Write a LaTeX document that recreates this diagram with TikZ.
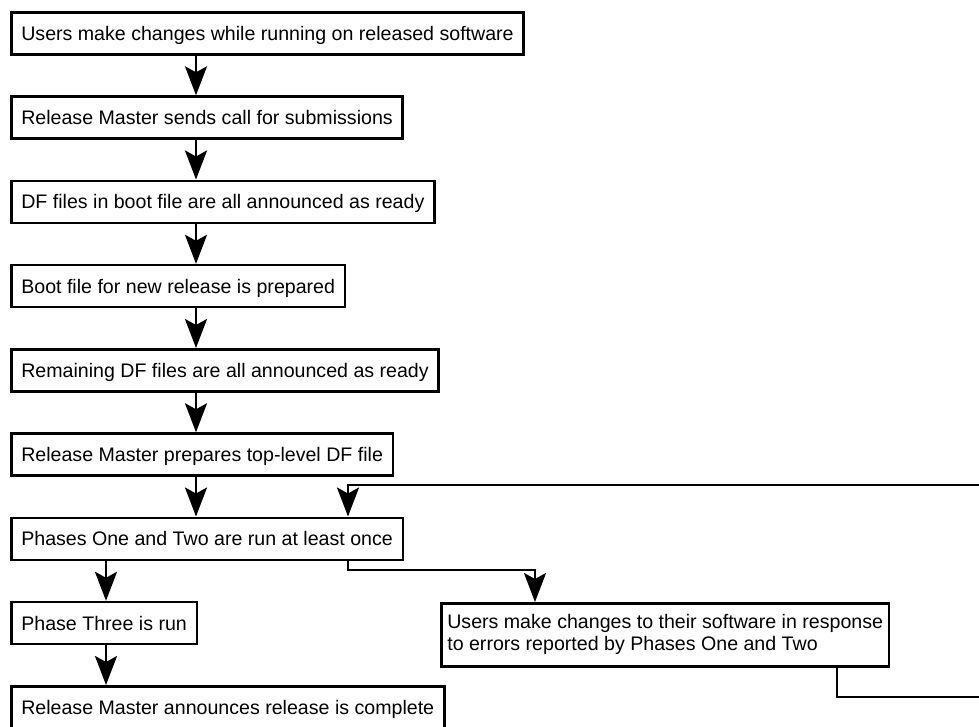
\documentclass[tikz,border=0pt]{standalone}
\usepackage{fontspec}
\setmainfont{Liberation Sans}
\usetikzlibrary{arrows.meta}
\begin{document}
\begin{tikzpicture}[x=1pt,y=-1pt,
  stepbox/.style={draw, line width=2.6pt, anchor=north west, minimum height=42pt,
    inner xsep=10pt, inner ysep=0pt, text height=15pt, text depth=1pt,
    font=\fontsize{19.6}{22}\selectfont},
  flow/.style={line width=2.6pt, line join=miter,
    -{Stealth[length=29pt,width=22pt,inset=6pt]}}]
\useasboundingbox (0,0) rectangle (979,726);

% main sequence of steps
\node[stepbox] (s1) at (10,11)    {Users make changes while running on released software};
\node[stepbox] (s2) at (10,95.3)  {Release Master sends call for submissions};
\node[stepbox] (s3) at (10,179.5) {DF files in boot file are all announced as ready};
\node[stepbox] (s4) at (10,263.8) {Boot file for new release is prepared};
\node[stepbox] (s5) at (10,348)   {Remaining DF files are all announced as ready};
\node[stepbox] (s6) at (10,432.3) {Release Master prepares top-level DF file};
\node[stepbox] (s7) at (10,516.5) {Phases One and Two are run at least once};
\node[stepbox] (s8) at (10,600.8) {Phase Three is run};
\node[stepbox] (s9) at (10,685)   {Release Master announces release is complete};

% side step: fixing errors found by Phases One and Two
\node[stepbox, minimum height=63pt, inner xsep=6pt, text height=, text depth=,
      align=left] (s10) at (440,602)
  {Users make changes to their software in response\\to errors reported by Phases One and Two};

% columns and rows used by the connectors
\coordinate (cA) at (196,0);
\coordinate (cB) at (106,0);
\coordinate (cC) at (348,0);
\coordinate (cD) at (535,0);
\coordinate (cE) at (837,0);
\coordinate (branchY) at (0,570);
\coordinate (loopTop) at (0,485);
\coordinate (loopLow) at (0,697);
\coordinate (loopR) at (992,0);

% straight flow down the main column
\draw[flow] (s1.south -| cA) -- (s2.north -| cA);
\draw[flow] (s2.south -| cA) -- (s3.north -| cA);
\draw[flow] (s3.south -| cA) -- (s4.north -| cA);
\draw[flow] (s4.south -| cA) -- (s5.north -| cA);
\draw[flow] (s5.south -| cA) -- (s6.north -| cA);
\draw[flow] (s6.south -| cA) -- (s7.north -| cA);
\draw[flow] (s7.south -| cB) -- (s8.north -| cB);
\draw[flow] (s8.south -| cB) -- (s9.north -| cB);

% branch to the correction step
\draw[flow] (s7.south -| cC) -- (branchY -| cC) -- (branchY -| cD) -- (s10.north -| cD);

% loop back to Phases One and Two
\draw[flow] (s10.south -| cE) -- (loopLow -| cE) -- (loopLow -| loopR)
  -- (loopTop -| loopR) -- (loopTop -| cC) -- (s7.north -| cC);
\end{tikzpicture}
\end{document}
